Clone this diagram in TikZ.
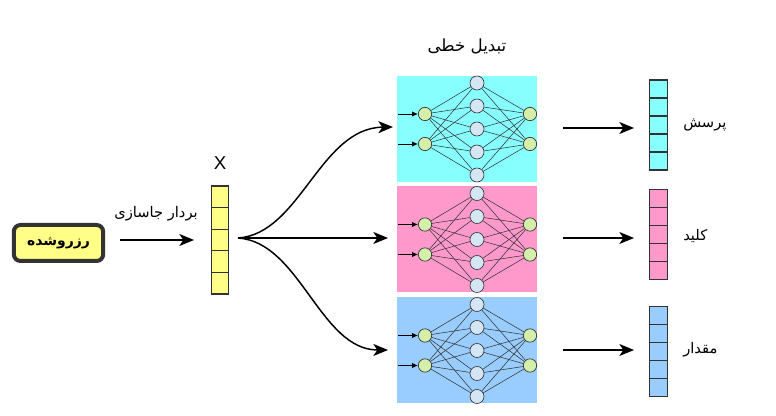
\documentclass[tikz,border=0pt]{standalone}
\usepackage{fontspec}
\setmainfont{Liberation Sans}
\newfontfamily\fa[Script=Arabic]{DejaVu Sans}
\TeXXeTstate=1
\usetikzlibrary{arrows.meta}
\definecolor{cyanf}{HTML}{88FFFF}
\definecolor{pinkf}{HTML}{FF99CC}
\definecolor{bluef}{HTML}{99CCFF}
\definecolor{yelf}{HTML}{FFFF88}
\definecolor{inf}{HTML}{D4EFAA}
\definecolor{hidf}{HTML}{D4E6F4}
\definecolor{dk}{HTML}{333333}
\tikzset{
  cell/.style={draw=dk, line width=0.8pt, minimum width=13pt, inner sep=0pt},
  inn/.style={circle, draw=dk, line width=0.5pt, fill=inf, minimum size=10pt, inner sep=0pt},
  hid/.style={circle, draw=dk, line width=0.5pt, fill=hidf, minimum size=10.5pt, inner sep=0pt},
  edge/.style={draw=dk, line width=0.4pt},
  small/.style={-{Latex[length=4.5pt,width=4pt]}, line width=0.6pt},
  bigarrow/.style={-{Stealth[length=11pt,width=9pt,inset=3pt]}, line width=1.1pt},
  lbl/.style={font=\fa\fontsize{11}{13}\selectfont, inner sep=0pt}
}
\newcommand\drawnet[3]{%
  \fill[#3] (397,{#2-53}) rectangle (537,{#2+53});
  \foreach \i/\dy in {1/-15,2/15}{
    \node[inn] (#1i\i) at (425,{#2+\dy}) {};
    \node[inn] (#1o\i) at (530,{#2+\dy}) {};
    \coordinate (#1a\i) at (398,{#2+\dy});
  }
  \foreach \j/\dy in {1/-46,2/-23,3/0,4/23,5/46}
    \node[hid] (#1h\j) at (477,{#2+\dy}) {};
  \foreach \i in {1,2}{
    \draw[small] (#1a\i) -- (#1i\i);
    \foreach \j in {1,...,5}{
      \draw[edge] (#1i\i) -- (#1h\j);
      \draw[edge] (#1h\j) -- (#1o\i);
    }
  }
}
\newcommand\drawvec[5]{% name, x, ytop, cell height(px), fill
  \foreach \k in {1,...,5}
    \node[cell, fill=#5, minimum height={#4*0.75pt}] (#1c\k) at (#2,{#3+(\k-0.5)*#4}) {};
}
\begin{document}
\begin{tikzpicture}[x=0.75pt,y=-0.75pt]
\useasboundingbox[fill=white] (0,0) rectangle (776,416);
% input box
\node[draw=dk, line width=3pt, rounded corners=5pt, fill=yelf, minimum width=67pt, minimum height=27pt,
      font=\fa\bfseries\fontsize{10.5}{12}\selectfont] (tok) at (58.5,243) {\beginR رزروشده\endR};
% embedding vector
\drawvec{x}{220}{186}{21.6}{yelf}
\node[font=\fontsize{14}{16}\selectfont, inner sep=0pt] (xl) at (220,163) {X};
\coordinate (ea) at (120,240);
\coordinate (eb) at (194,240);
\draw[bigarrow] (ea) -- (eb);
\node[lbl] (emb) at (156,214) {\beginR بردار جاسازی\endR};
% nets
\drawnet{q}{129}{cyanf}
\drawnet{k}{239.5}{pinkf}
\drawnet{v}{350.5}{bluef}
\node[font=\fa\fontsize{12.5}{14}\selectfont, inner sep=0pt] (title) at (467,46) {\beginR تبدیل خطی\endR};
% curves
\coordinate (xs) at (238,238);
\coordinate (qe) at (393,127);
\coordinate (ke) at (388,238);
\coordinate (ve) at (388,350);
\draw[bigarrow] (xs) .. controls (300,234) and (320,128) .. (qe);
\draw[bigarrow] (xs) -- (ke);
\draw[bigarrow] (xs) .. controls (300,242) and (320,350) .. (ve);
% outputs
\drawvec{qv}{658.5}{80}{18}{cyanf}
\drawvec{kv}{658.5}{189.5}{18}{pinkf}
\drawvec{vv}{658.5}{306.5}{18}{bluef}
\coordinate (qs) at (563,128);
\coordinate (ks) at (563,238);
\coordinate (vs) at (563,350);
\coordinate (qt) at (634,128);
\coordinate (kt) at (634,238);
\coordinate (vt) at (634,350);
\draw[bigarrow] (qs) -- (qt);
\draw[bigarrow] (ks) -- (kt);
\draw[bigarrow] (vs) -- (vt);
\node[lbl, anchor=west] (ql) at (683,125) {\beginR پرسش\endR};
\node[lbl, anchor=west] (kl) at (683,236) {\beginR کلید\endR};
\node[lbl, anchor=west] (vl) at (683,350) {\beginR مقدار\endR};
\end{tikzpicture}
\end{document}
